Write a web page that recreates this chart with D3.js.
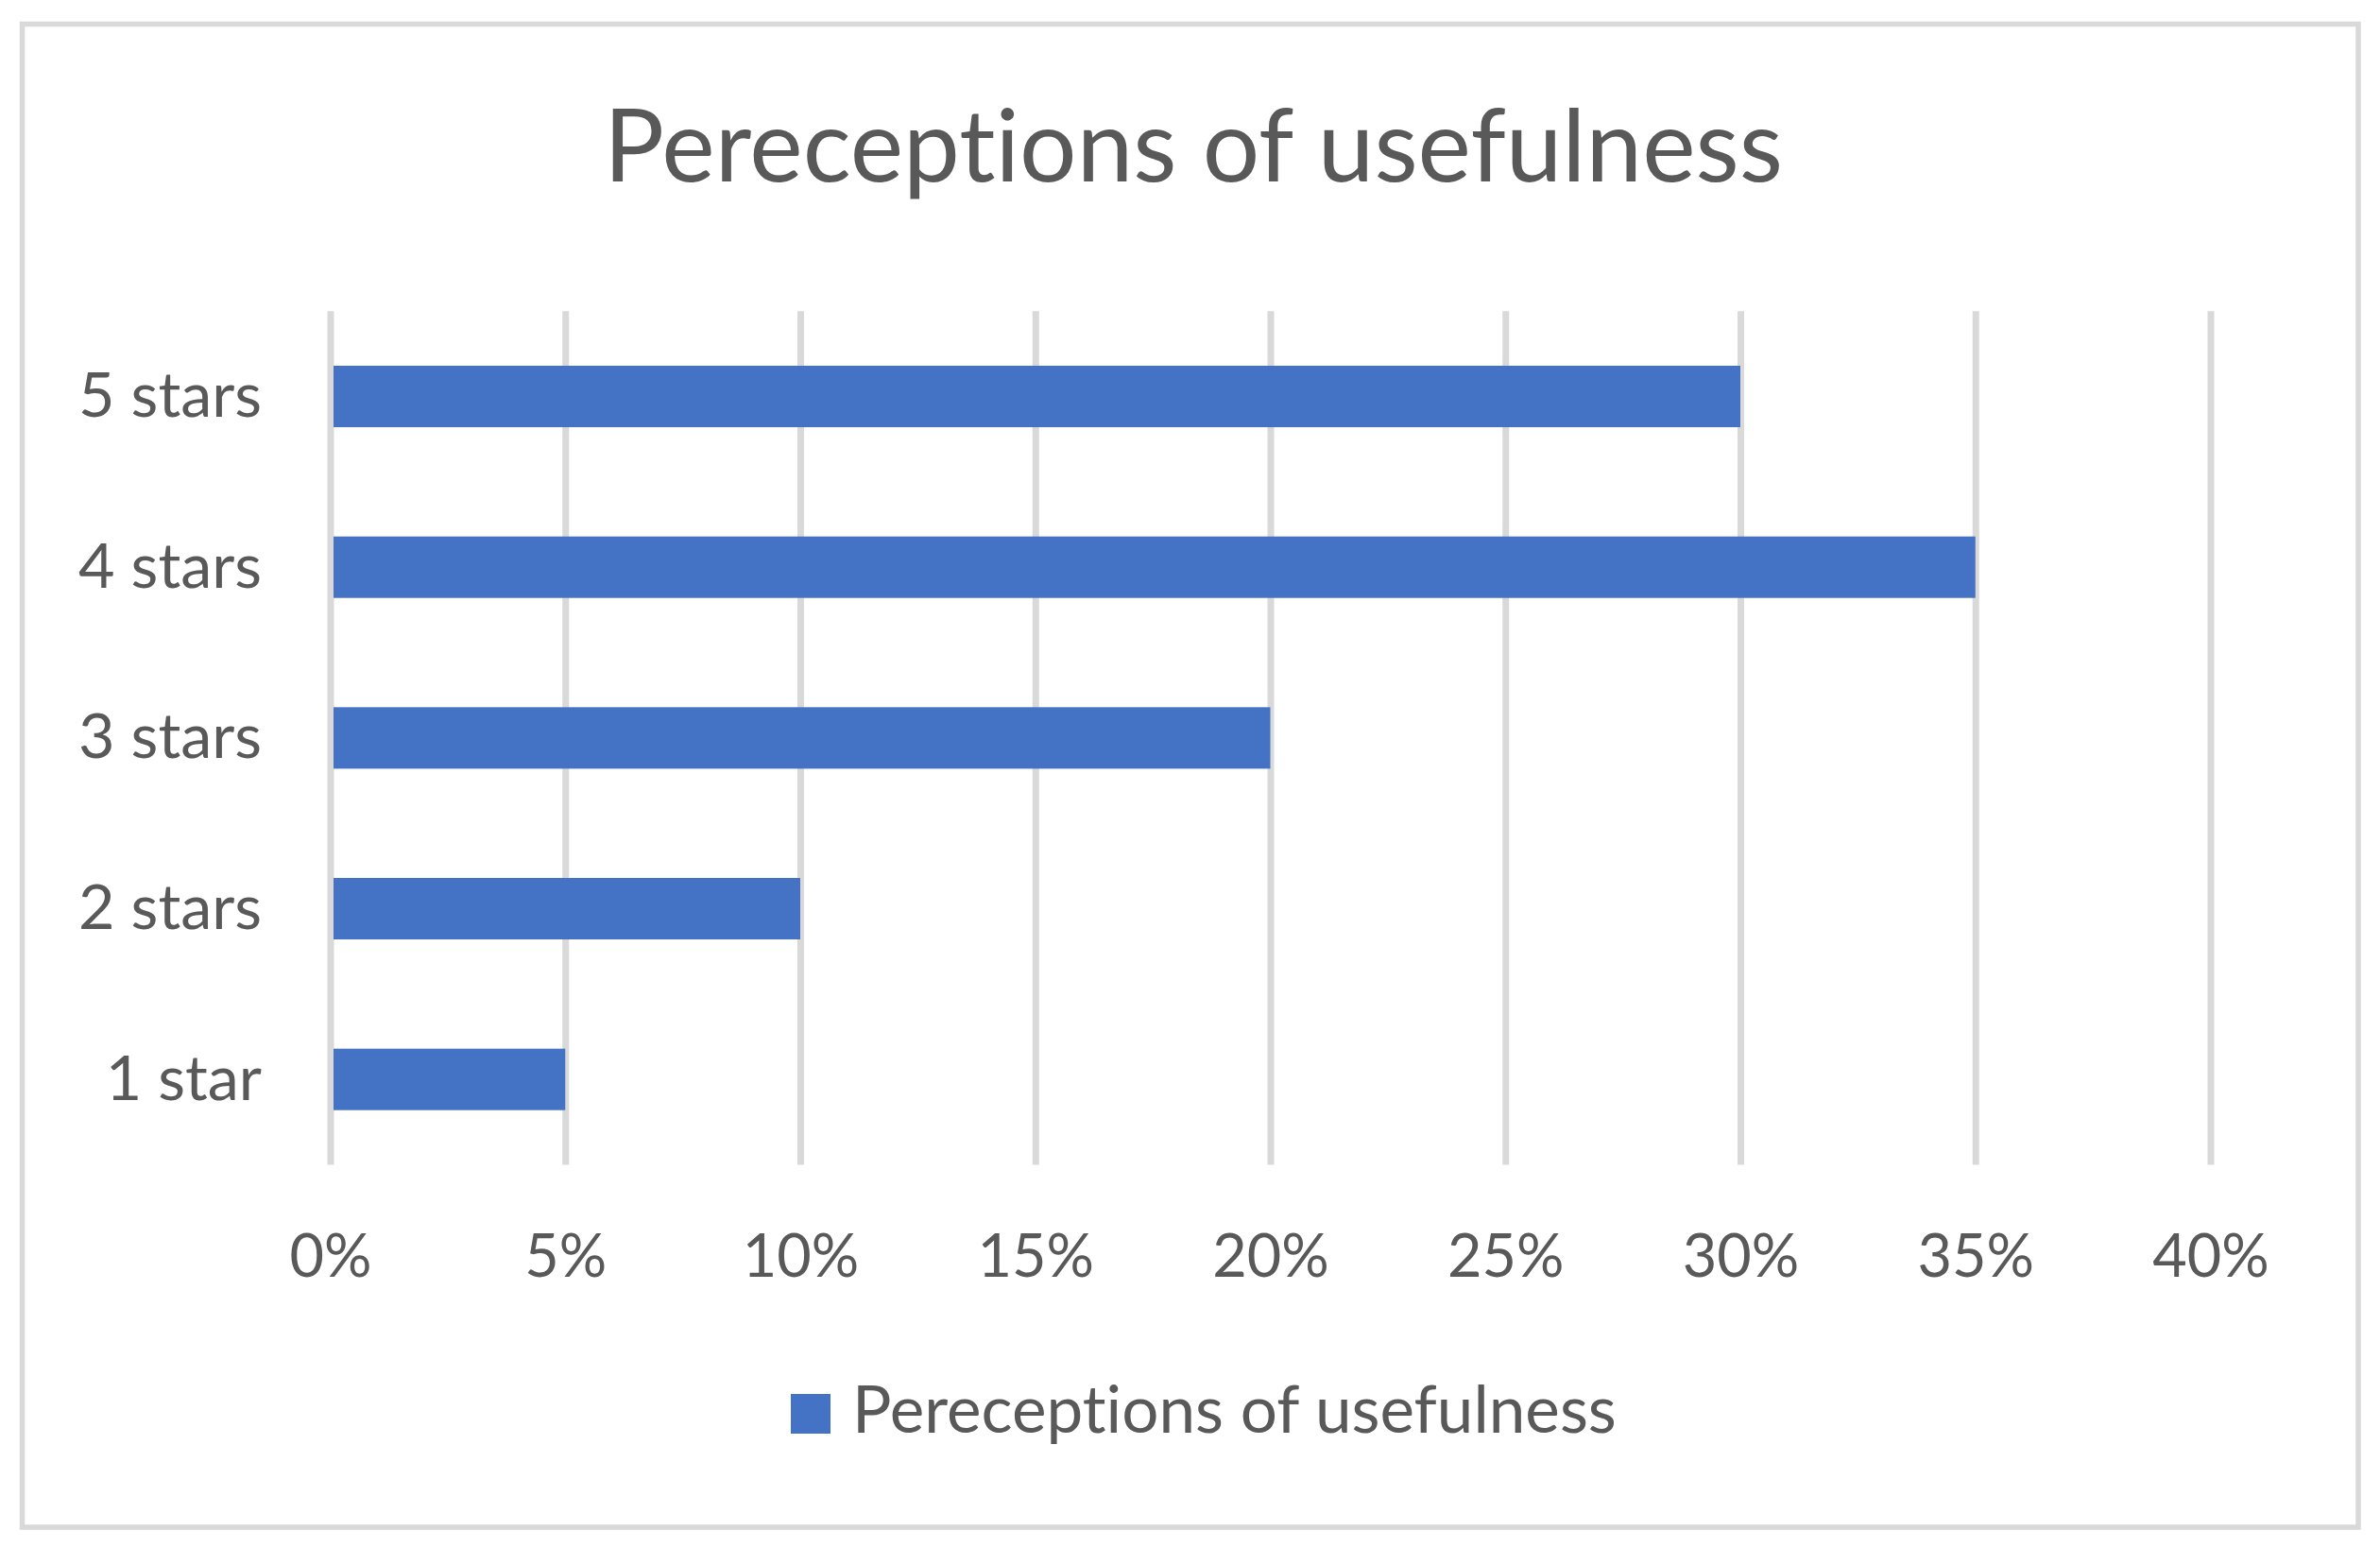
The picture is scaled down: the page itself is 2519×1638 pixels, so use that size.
<!DOCTYPE html>
<html>
<head>
<meta charset="utf-8">
<script src="https://cdn.jsdelivr.net/npm/d3@7"></script>
<style>
  html, body { margin: 0; padding: 0; background: #ffffff; }
  svg { display: block; }
  text { font-variant-ligatures: none; font-feature-settings: "liga" 0, "clig" 0; }
</style>
</head>
<body>
<svg id="chart" width="2519" height="1638"></svg>
<script>
// ---- data ----
const categories = ["1 star", "2 stars", "3 stars", "4 stars", "5 stars"];
const values = [0.05, 0.10, 0.20, 0.35, 0.30];
const tickValues = [0, 0.05, 0.10, 0.15, 0.20, 0.25, 0.30, 0.35, 0.40];
const seriesName = "Pereceptions of usefulness";
const titleText = "Pereceptions of usefulness";

// ---- layout ----
const W = 2519, H = 1638;
const FONT = "Lato, 'Open Sans', sans-serif";
const TEXT = "#595959", GRID = "#D9D9D9", BAR = "#4472C4";
const plot = { left: 349.5, right: 2339.5, top: 329.2, bottom: 1232.5 };

const svg = d3.select("#chart");
svg.append("rect").attr("width", W).attr("height", H).attr("fill", "#fff");

// chart border
svg.append("rect")
  .attr("x", 23.5).attr("y", 25.5)
  .attr("width", 2496 - 23.5).attr("height", 1616 - 25.5)
  .attr("fill", "none").attr("stroke", GRID).attr("stroke-width", 5.5);

const x = d3.scaleLinear().domain([0, 0.40]).range([plot.left, plot.right]);
const y = d3.scaleBand().domain(categories.slice().reverse())
  .range([plot.top, plot.bottom]).paddingInner(0.64).paddingOuter(0.32);

function fitWidth(sel, target) {
  const w = sel.node().getComputedTextLength();
  sel.attr("font-size", (+sel.attr("font-size")) * target / w);
}

// gridlines (via axis)
const gridAxis = d3.axisBottom(x).tickValues(tickValues).tickSize(plot.bottom - plot.top).tickFormat("");
const gG = svg.append("g").attr("transform", `translate(0,${plot.top})`).call(gridAxis);
gG.select(".domain").remove();
gG.selectAll("line").attr("stroke", GRID).attr("stroke-width", 7);

// bars
svg.append("g").selectAll("rect").data(categories).join("rect")
  .attr("x", x(0) + 3.5)
  .attr("y", d => y(d))
  .attr("width", (d, i) => x(values[i]) - x(0) - 3.5)
  .attr("height", y.bandwidth())
  .attr("fill", BAR);

// x tick labels
const xAxis = d3.axisBottom(x).tickValues(tickValues).tickSize(0).tickFormat(d3.format(".0%"));
const xG = svg.append("g").call(xAxis);
xG.select(".domain").remove();
xG.selectAll("text")
  .attr("y", 1351).attr("dy", null)
  .attr("fill", TEXT).attr("font-family", FONT).attr("font-size", 64);
{
  const first = xG.select("text");
  const w = first.node().getComputedTextLength();
  xG.selectAll("text").attr("font-size", 64 * 87 / w);
}
xG.attr("font-family", null).attr("font-size", null);

// y labels
const yAxis = d3.axisLeft(y).tickSize(0).tickPadding(0);
const yG = svg.append("g").attr("transform", `translate(277,0)`).call(yAxis);
yG.select(".domain").remove();
yG.selectAll("text")
  .attr("x", 0).attr("dy", null)
  .attr("fill", TEXT).attr("font-family", FONT).attr("font-size", 64)
  .attr("text-anchor", "end");
{
  const lbl = yG.selectAll("text").filter(d => d === "5 stars");
  const w = lbl.node().getComputedTextLength();
  yG.selectAll("text").attr("font-size", 64 * 194 / w).attr("y", 21.5);
}
yG.attr("font-family", null).attr("font-size", null);

// title
const title = svg.append("text")
  .attr("x", 1263).attr("y", 192)
  .attr("text-anchor", "middle")
  .attr("fill", TEXT).attr("font-family", FONT).attr("font-size", 100)
  .text(titleText);
fitWidth(title, 1248);

// legend
svg.append("rect")
  .attr("x", 837).attr("y", 1475).attr("width", 42).attr("height", 42)
  .attr("fill", BAR);
const leg = svg.append("text")
  .attr("x", 902).attr("y", 1516)
  .attr("fill", TEXT).attr("font-family", FONT).attr("font-size", 64)
  .text(seriesName);
fitWidth(leg, 809);
</script>
</body>
</html>
